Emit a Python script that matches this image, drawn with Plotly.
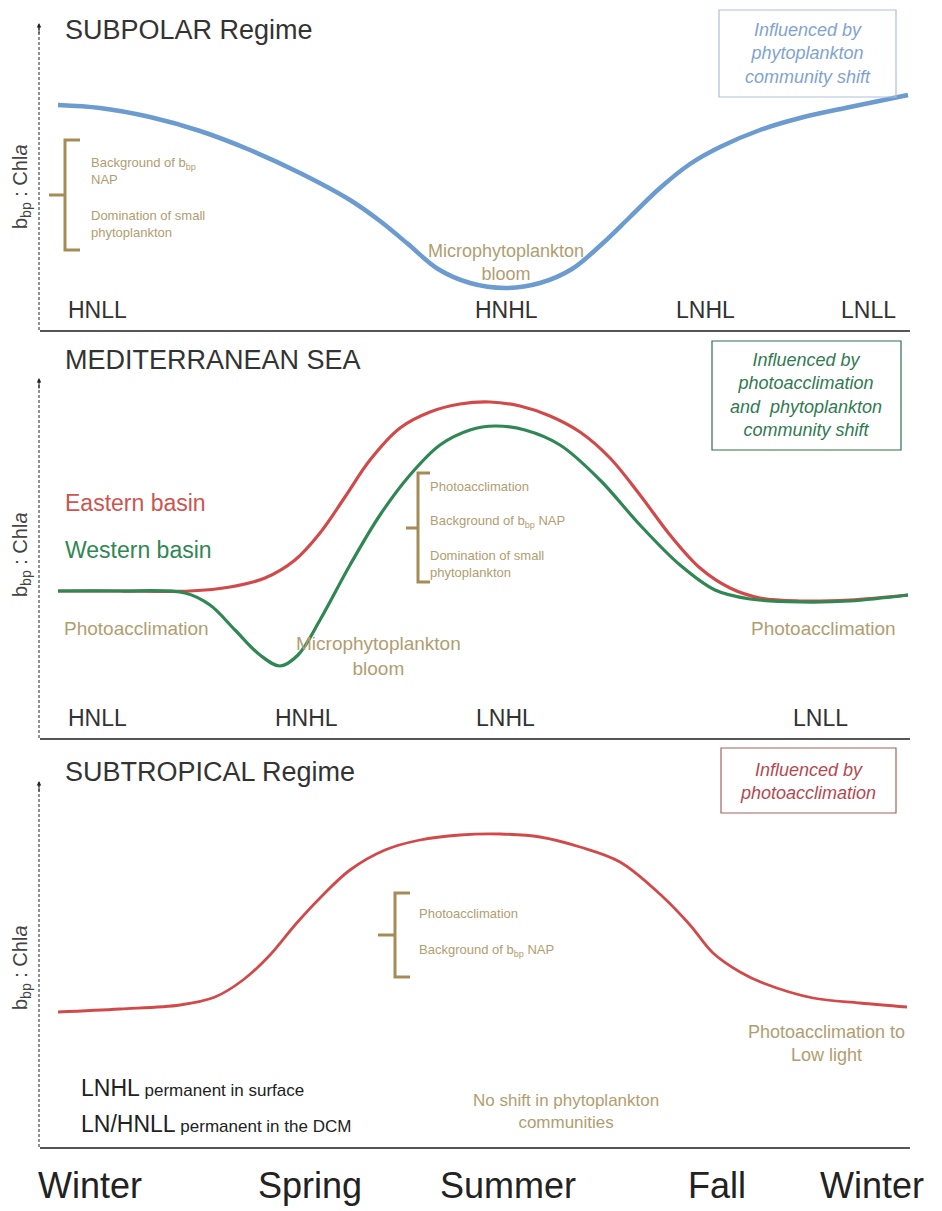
import plotly.graph_objects as go

# ---------------- data (arbitrary units) ----------------
# x: position along the seasonal cycle (0 .. 87), y: relative bbp:Chla
subpolar_x = [1.8, 6.0, 11.0, 16.0, 21.0, 26.0, 31.0, 34.0, 36.8, 39.8, 43.0, 46.5, 50.0, 53.2, 56.2, 59.0, 62.0, 65.0, 68.0, 72.0, 76.0, 81.0, 86.8]
subpolar_y = [22.5, 22.2, 21.3, 19.9, 18.0, 15.7, 13.0, 10.9, 8.6, 6.1, 4.7, 4.2, 4.7, 6.1, 8.6, 11.3, 14.2, 16.6, 18.3, 20.0, 21.2, 22.3, 23.5]

east_x = [1.8, 8.0, 15.0, 19.0, 22.5, 25.5, 28.0, 30.5, 33.0, 36.0, 39.0, 42.0, 45.0, 48.0, 51.0, 54.0, 57.0, 60.0, 63.0, 66.0, 69.0, 72.0, 76.0, 81.0, 86.8]
east_y = [14.7, 14.7, 14.7, 15.1, 16.0, 17.8, 20.5, 24.1, 27.8, 31.0, 32.6, 33.4, 33.6, 33.2, 32.2, 30.6, 28.0, 24.3, 20.3, 17.0, 15.0, 14.0, 13.7, 13.8, 14.3]

west_x = [1.8, 8.0, 14.5, 17.0, 19.5, 22.0, 24.0, 25.8, 28.0, 31.0, 34.0, 37.0, 40.0, 43.0, 45.5, 48.5, 52.0, 56.0, 60.0, 64.0, 67.5, 71.0, 76.0, 81.0, 86.8]
west_y = [14.7, 14.7, 14.5, 13.3, 10.8, 8.3, 7.2, 8.3, 11.8, 17.3, 22.3, 26.3, 29.3, 30.8, 31.2, 30.8, 29.3, 25.8, 21.3, 17.3, 14.8, 13.9, 13.6, 13.7, 14.3]

subtrop_x = [1.8, 8.0, 14.0, 17.5, 20.3, 23.0, 25.5, 28.0, 31.0, 34.5, 38.0, 42.0, 46.0, 50.0, 54.0, 58.0, 62.3, 65.0, 67.3, 70.0, 72.3, 77.3, 82.0, 86.7]
subtrop_y = [13.5, 13.8, 14.2, 15.0, 16.7, 19.2, 22.2, 24.9, 27.7, 29.7, 30.7, 31.2, 31.3, 31.0, 30.0, 28.5, 25.0, 22.2, 19.4, 17.5, 16.4, 14.9, 14.4, 14.0]

season_labels = ["Winter", "Spring", "Summer", "Fall", "Winter"]
subpolar_regimes = ["HNLL", "HNHL", "LNHL", "LNLL"]
med_regimes = ["HNLL", "HNHL", "LNHL", "LNLL"]

# ---------------- layout helpers ----------------
W, H = 942, 1211


def px(x):
    return x / W


def py(y):
    return 1 - y / H


BLUE = "#6b9bcf"
RED = "#d2494a"
GREEN = "#2f8753"
TAN = "#b29d70"
BRACE = "#a58b55"
DARK = "#333333"
FONT = "Liberation Sans, Arial, sans-serif"

XDOM = [px(40), px(910)]
panels = [  # (top px, bottom px)
    (25, 330),
    (380, 738),
    (783, 1147),
]

fig = go.Figure()

fig.add_trace(go.Scatter(x=subpolar_x, y=subpolar_y, mode="lines",
                         line=dict(color=BLUE, width=4.5, shape="spline", smoothing=1.0),
                         xaxis="x", yaxis="y", hoverinfo="skip"))
fig.add_trace(go.Scatter(x=east_x, y=east_y, mode="lines",
                         line=dict(color=RED, width=3.2, shape="spline", smoothing=1.0),
                         xaxis="x2", yaxis="y2", hoverinfo="skip"))
fig.add_trace(go.Scatter(x=west_x, y=west_y, mode="lines",
                         line=dict(color=GREEN, width=3.2, shape="spline", smoothing=1.0),
                         xaxis="x2", yaxis="y2", hoverinfo="skip"))
fig.add_trace(go.Scatter(x=subtrop_x, y=subtrop_y, mode="lines",
                         line=dict(color=RED, width=2.8, shape="spline", smoothing=1.0),
                         xaxis="x3", yaxis="y3", hoverinfo="skip"))

axis_common = dict(showgrid=False, zeroline=False, showticklabels=False, ticks="")
layout_axes = {}
for i, (top, bot) in enumerate(panels, start=1):
    sfx = "" if i == 1 else str(i)
    layout_axes["xaxis" + sfx] = dict(axis_common, domain=XDOM, range=[0, 87],
                                      anchor="y" + sfx, showline=True,
                                      linecolor="#555555", linewidth=2)
    layout_axes["yaxis" + sfx] = dict(axis_common, domain=[py(bot), py(top)],
                                      range=[0, (bot - top) / 10.0],
                                      anchor="x" + sfx, showline=False)

shapes = []
annotations = []

# dashed y-axis lines with arrows
for (top, bot) in panels:
    shapes.append(dict(type="line", xref="paper", yref="paper",
                       x0=px(39), x1=px(39), y0=py(bot), y1=py(top),
                       line=dict(color="#222222", width=1, dash="3px,2px")))
    annotations.append(dict(xref="paper", yref="paper", x=px(39), y=py(top - 2),
                            ax=0, ay=12, text="", showarrow=True, arrowhead=2,
                            arrowsize=0.9, arrowwidth=1, arrowcolor="#222222"))

# y-axis titles
for yc in [187, 555, 968]:
    annotations.append(dict(xref="paper", yref="paper", x=px(21), y=py(yc),
                            xanchor="center", yanchor="middle",
                            text="b<sub>bp</sub> : Chl<i>a</i>", showarrow=False,
                            textangle=-90, font=dict(family=FONT, size=20, color="#444444")))


def txt(x, y, text, size, color=DARK, xanchor="left", italic=False, family=FONT):
    annotations.append(dict(xref="paper", yref="paper", x=px(x), y=py(y),
                            text=text, showarrow=False, xanchor=xanchor, yanchor="middle",
                            align="center" if xanchor == "center" else "left",
                            font=dict(family=family, size=size, color=color,
                                      style="italic" if italic else "normal")))


def brace(x, top, bot, mid, hook, tick):
    path = (f"M {px(hook)} {py(top)} L {px(x)} {py(top)} L {px(x)} {py(bot)} "
            f"L {px(hook)} {py(bot)} M {px(x)} {py(mid)} L {px(tick)} {py(mid)}")
    shapes.append(dict(type="path", xref="paper", yref="paper", path=path,
                       line=dict(color=BRACE, width=3)))


def box(x0, y0, x1, y1, color):
    shapes.append(dict(type="rect", xref="paper", yref="paper",
                       x0=px(x0), x1=px(x1), y0=py(y1), y1=py(y0),
                       line=dict(color=color, width=1.2), fillcolor="rgba(0,0,0,0)"))


# ---------------- panel 1: SUBPOLAR ----------------
txt(63, 30, "SUBPOLAR Regime", 27)
box(719, 10, 896, 97, "#aebfd8")
txt(808, 53, "Influenced by<br>phytoplankton<br>community shift", 18, color="#7fa3cf",
    xanchor="center", italic=True)
brace(65, 140, 250, 195, 80, 49)
txt(89, 171, "Background of b<sub>bp</sub><br>NAP", 13, color=TAN)
txt(89, 224, "Domination of small<br>phytoplankton", 13, color=TAN)
txt(506, 262, "Microphytoplankton<br>bloom", 18, color=TAN, xanchor="center")
for lab, xc in zip(subpolar_regimes, [97, 506, 705, 868]):
    txt(xc, 310, lab, 23, xanchor="center")

# ---------------- panel 2: MEDITERRANEAN ----------------
txt(63, 360, "MEDITERRANEAN SEA", 27)
box(712, 341, 901, 450, "#2f6e4f")
txt(806, 395, "Influenced by<br>photoacclimation<br>and  phytoplankton<br>community shift", 18,
    color="#2f7a50", xanchor="center", italic=True)
txt(63, 503, "Eastern basin", 23, color="#cc5550")
txt(63, 550, "Western basin", 23, color=GREEN)
txt(62, 628, "Photoacclimation", 19, color=TAN)
txt(378, 656, "Microphytoplankton<br>bloom", 19, color=TAN, xanchor="center")
txt(823, 628, "Photoacclimation", 19, color=TAN, xanchor="center")
brace(418, 473, 582, 528, 430, 406)
txt(428, 486, "Photoacclimation", 13, color=TAN)
txt(428, 521, "Background of b<sub>bp</sub> NAP", 13, color=TAN)
txt(428, 564, "Domination of small<br>phytoplankton", 13, color=TAN)
for lab, xc in zip(med_regimes, [97, 306, 505, 820]):
    txt(xc, 718, lab, 23, xanchor="center")

# ---------------- panel 3: SUBTROPICAL ----------------
txt(63, 772, "SUBTROPICAL Regime", 27)
box(721, 748, 896, 813, "#a7625f")
txt(808, 781, "Influenced by<br>photoacclimation", 18, color="#b5484f",
    xanchor="center", italic=True)
brace(395, 893, 977, 935, 410, 378)
txt(417, 913, "Photoacclimation", 13, color=TAN)
txt(417, 950, "Background of b<sub>bp</sub> NAP", 13, color=TAN)
txt(826, 1043, "Photoacclimation to<br>Low light", 18, color=TAN, xanchor="center")
txt(566, 1111, "No shift in phytoplankton<br>communities", 17, color=TAN, xanchor="center")
txt(79, 1088, "LNHL<span style='font-size:17px'> permanent in surface</span>", 23, color="#222222")
txt(79, 1124, "LN/HNLL<span style='font-size:17px'> permanent in the DCM</span>", 23, color="#222222")

# ---------------- season labels ----------------
for lab, xc in zip(season_labels, [90, 310, 508, 717, 872]):
    txt(xc, 1185, lab, 36, color="#222222", xanchor="center")

fig.update_layout(
    width=W, height=H,
    margin=dict(l=0, r=0, t=0, b=0),
    paper_bgcolor="white", plot_bgcolor="white",
    showlegend=False,
    font=dict(family=FONT, color=DARK),
    shapes=shapes, annotations=annotations,
    **layout_axes,
)

fig.write_html("out.html")
